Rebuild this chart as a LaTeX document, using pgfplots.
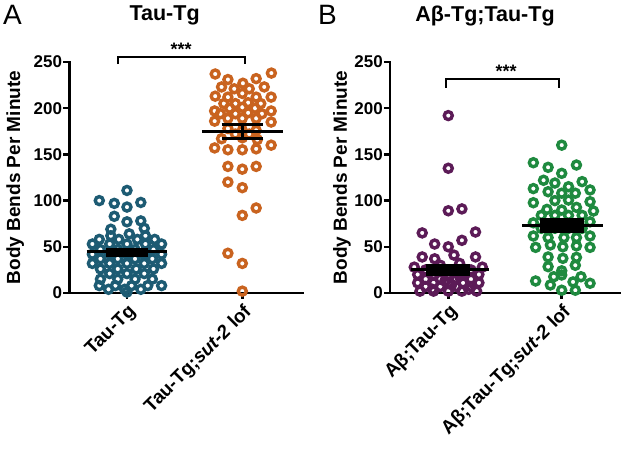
\documentclass[border=0pt]{standalone}
\usepackage{fontspec}
\setmainfont{Liberation Sans}
\usepackage{pgfplots}
\pgfplotsset{compat=1.18}

\definecolor{tealc}{HTML}{1D5B73}
\definecolor{orngc}{HTML}{C9631F}
\definecolor{purpc}{HTML}{5C1B57}
\definecolor{grnc}{HTML}{1F8A3F}

\tikzset{ttl/.style={font=\bfseries\fontsize{21.5}{24}\selectfont, anchor=center}}

\pgfplotsset{
 panel/.style={
  scale only axis, height=231pt,
  anchor=south west,
  axis lines=left,
  axis line style={-, line width=2.7pt, line cap=rect},
  ymin=0, ymax=250, ytick={0,50,...,250},
  xtick={0,1},
  tick align=outside, major tick length=6pt,
  tick style={line width=2.5pt, black},
  clip=false,
  /pgf/number format/assume math mode=true,
  yticklabel style={font=\bfseries\fontsize{17}{20}\selectfont, inner xsep=1pt},
  xticklabel style={font=\bfseries\fontsize{19}{22}\selectfont, rotate=45, anchor=north east, inner sep=2.5pt},
  ylabel={Body Bends Per Minute},
 },
 topaxis/.style={
  scale only axis, height=231pt,
  anchor=south west,
  ymin=0, ymax=250,
  hide axis, clip=false,
 },
 dots/.style={only marks, line width=3.4pt, mark=o, mark size=4pt, mark options={solid, line width=3.4pt, draw=#1, fill=none}},
 meanline/.style={black, no marks, line width=3pt},
 semfill/.style={black, fill=black, no marks, line width=1pt},
 sembar/.style={black, no marks, line width=2.5pt},
}

\begin{document}
\begin{tikzpicture}
\useasboundingbox (0,0) rectangle (625pt,450pt);

% ---------------- Panel A ----------------
\begin{axis}[panel, at={(69.3pt,157pt)}, width=233pt,
  xmin=-0.5, xmax=1.52,
  xticklabels={{Tau-Tg},{Tau-Tg;\itshape sut-2\upshape{} lof}},
  ylabel style={font=\bfseries\fontsize{19}{22}\selectfont, at={(axis description cs:-0.232,0.5)}, anchor=center},
]
\addplot[dots=tealc] coordinates {
(0,111) (-0.24,100) (-0.11,97) (0.12,98) (0,93) (-0.11,83) (0,77) (0.12,78)
(-0.14,69) (0.15,70) (0.02,64) (-0.14,62) (0.16,62)
(-0.24,58) (-0.07,58) (0.09,58) (0.24,58)
(-0.3,53) (-0.15,53) (0,53) (0.16,53) (0.3,53)
(-0.23,47) (-0.08,47) (0.07,47) (0.23,47)
(-0.3,42) (-0.15,42) (0,42) (0.15,42) (0.3,42)
(-0.23,37) (-0.08,37) (0.07,37) (0.22,37)
(-0.3,32) (-0.15,32) (0,32) (0.15,32) (0.3,32)
(-0.23,26) (-0.08,26) (0.08,26) (0.23,26)
(-0.15,21) (0,21) (0.15,21)
(-0.23,15) (-0.08,15) (0.07,15) (0.22,15)
(-0.24,8) (-0.1,8) (0.04,8) (0.18,8) (0.3,8)
(-0.16,4) (-0.02,4) (0.12,4)
(0,1)
};
\addplot[dots=orngc] coordinates {
(0.765,237) (1.252,238) (0.875,231) (1.12,232) (1.005,227) (0.82,223) (0.93,221) (1.06,221) (1.19,223)
(0.765,213) (1.25,212) (0.875,212) (1,216) (1.12,212)
(0.84,205) (0.94,205) (1.05,206) (1.16,205)
(0.89,200) (1,201) (1.11,200)
(0.76,197) (1.25,197) (0.81,194) (0.94,194) (1.05,195) (1.17,194)
(0.76,186) (1.25,185) (0.875,189) (1,189) (1.12,189)
(0.875,178) (1.12,176) (1,176)
(0.82,167) (1,168) (1.13,166) (0.94,172) (1.06,172)
(0.76,157) (0.875,155) (1,155) (1.12,156) (1.25,160)
(0.875,137) (1,134) (1.12,137)
(0.875,120) (1,114) (1.12,92) (1,84)
(0.875,43) (1,32) (1,2)
};
% significance
\addplot[black, no marks, line width=2pt] coordinates {(-0.076,247.8) (-0.076,255.4) (1.02,255.4) (1.02,247.8)};
\node[font=\bfseries\fontsize{18}{20}\selectfont] at (axis cs:0.47,264) {***};
\node[font=\fontsize{28}{30}\selectfont] at (axis description cs:-0.244,1.203) {A};
\node[ttl] at (axis description cs:0.409,1.200) {Tau-Tg};
\end{axis}
% mean and SEM on top of the dots
\begin{axis}[topaxis, at={(69.3pt,157pt)}, width=233pt, xmin=-0.5, xmax=1.52]
\addplot[semfill] coordinates {(-0.18,40) (0.18,40) (0.18,48.4) (-0.18,48.4) (-0.18,40)};
\addplot[meanline] coordinates {(-0.35,45.1) (0.35,45.1)};
\addplot[meanline] coordinates {(0.65,174.6) (1.35,174.6)};
\addplot[sembar] coordinates {(0.82,182.6) (1.18,182.6)};
\addplot[sembar] coordinates {(0.82,167.4) (1.18,167.4)};
\addplot[sembar] coordinates {(1,167.4) (1,182.6)};
\end{axis}

% ---------------- Panel B ----------------
\begin{axis}[panel, at={(390pt,157pt)}, width=230pt,
  xmin=-0.514, xmax=1.514,
  xticklabels={{Aβ;Tau-Tg},{Aβ;Tau-Tg;\itshape sut-2\upshape{} lof}},
  ylabel style={font=\bfseries\fontsize{19}{22}\selectfont, at={(axis description cs:-0.209,0.5)}, anchor=center},
]
\addplot[dots=purpc] coordinates {
(0,192) (0,135) (0,89) (0.12,91) (-0.23,65) (0.24,66)
(-0.12,53) (0,50) (0.12,57)
(-0.23,39) (-0.12,37) (0.05,41) (0.24,39)
(-0.3,28) (0.3,28)
(-0.2,25) (-0.07,25) (0.07,25) (0.2,25)
(-0.27,20) (-0.13,20) (0,20) (0.13,20) (0.27,20)
(-0.2,15) (-0.07,15) (0.07,15) (0.2,15)
(-0.27,11) (-0.13,11) (0,11) (0.13,11) (0.27,11)
(-0.2,7) (-0.07,7) (0.07,7) (0.2,7)
(-0.25,2) (-0.13,2) (0,2) (0.12,2) (0.25,2)
(-0.07,30) (0.1,32) (-0.14,4) (0.03,9) (0.18,4) (-0.03,13) (0.1,18)
};
\addplot[dots=grnc] coordinates {
(1,160) (0.75,141) (0.88,136) (1.13,138.5) (1,129.5) (0.84,122) (1.18,120.5)
(0.75,113) (0.94,119) (1.06,115) (1.25,111.5) (0.88,109.6) (1,108) (1.12,108)
(0.75,97.7) (1.25,98.8) (0.94,100) (1.06,100.6)
(0.87,90.5) (1,89.8) (1.13,92.7) (1.28,88.7)
(0.82,84) (0.94,84) (1.06,84) (1.18,84)
(0.75,76) (1.25,77)
(0.82,70) (0.94,70) (1.06,70) (1.18,70) (1,73)
(0.75,61.7) (0.88,60) (1.02,60) (1.13,60) (1.25,61.7)
(0.77,49.4) (0.9,52) (1.01,50) (1.13,51) (1.25,49.4)
(0.88,39) (1.01,37.5) (1.13,38.6)
(0.88,28.5) (1.12,30) (1,24)
(0.93,17.6) (1,19.5) (0.77,13) (0.9,8.7) (1.1,12) (1.17,17.6) (1.25,10.5) (1,3) (1.12,3)
};
\addplot[black, no marks, line width=2pt] coordinates {(-0.02,222) (-0.02,231.6) (0.98,231.6) (0.98,222)};
\node[font=\bfseries\fontsize{18}{20}\selectfont] at (axis cs:0.51,240) {***};
\node[font=\fontsize{28}{30}\selectfont] at (axis description cs:-0.272,1.203) {B};
\node[ttl] at (axis description cs:0.413,1.200) {Aβ-Tg;Tau-Tg};
\end{axis}
\begin{axis}[topaxis, at={(390pt,157pt)}, width=230pt, xmin=-0.514, xmax=1.514]
\addplot[semfill] coordinates {(-0.19,18.4) (0.19,18.4) (0.19,30.3) (-0.19,30.3) (-0.19,18.4)};
\addplot[meanline] coordinates {(-0.33,24.9) (0.36,24.9)};
\addplot[semfill] coordinates {(0.81,65.3) (1.19,65.3) (1.19,80.8) (0.81,80.8) (0.81,65.3)};
\addplot[meanline] coordinates {(0.65,73.2) (1.36,73.2)};
\end{axis}
\end{tikzpicture}
\end{document}
